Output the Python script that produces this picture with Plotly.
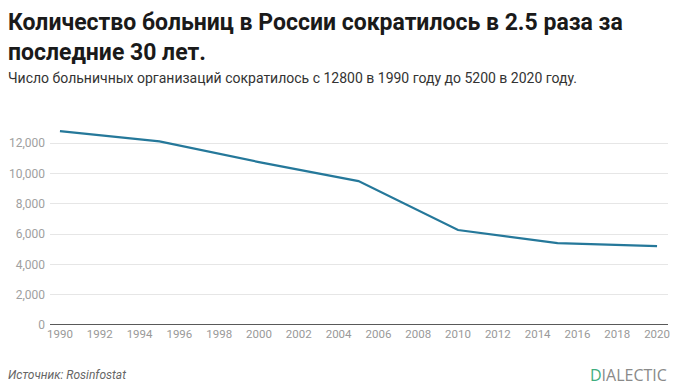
import plotly.graph_objects as go

years = [1990, 1995, 2000, 2005, 2010, 2015, 2020]
hospitals = [12800, 12120, 10750, 9500, 6270, 5400, 5200]
x_ticks = list(range(1990, 2021, 2))
y_ticks = [0, 2000, 4000, 6000, 8000, 10000, 12000]

title_text = "Количество больниц в России сократилось в 2.5 раза за<br>последние 30 лет."
subtitle_text = "Число больничных организаций сократилось с 12800 в 1990 году до 5200 в 2020 году."
source_text = "Источник: Rosinfostat"

FONT = "Roboto, Arial"
OFF = 8  # page body margin
W, H = 680 - OFF, 388 - OFF
L, R, T, B = 42, 12, 117, 63

fig = go.Figure()
fig.add_trace(go.Scatter(
    x=years, y=hospitals, mode="lines",
    line=dict(color="#25789a", width=2.2),
    hoverinfo="x+y", showlegend=False,
))

plot_h = H - T - B
plot_w = W - L - R
def py(page_y):
    return (H - B - (page_y - OFF)) / plot_h
def px(page_x):
    return (page_x - OFF - L) / plot_w

anns = [
    dict(text="<b>" + title_text + "</b>", x=px(6), y=py(7), xref="paper", yref="paper",
         xanchor="left", yanchor="top", showarrow=False, align="left",
         font=dict(family=FONT, size=23, color="#1a1a1a")),
    dict(text=subtitle_text, x=px(6), y=py(78), xref="paper", yref="paper",
         xanchor="left", yanchor="middle", showarrow=False, align="left",
         font=dict(family=FONT, size=14, color="#333333")),
    dict(text="<i>" + source_text + "</i>", x=px(6), y=py(375), xref="paper", yref="paper",
         xanchor="left", yanchor="middle", showarrow=False, align="left",
         font=dict(family=FONT, size=12, color="#666666")),
    dict(text="<span style='color:#3fae7e'>D</span>IALECTIC", x=px(669), y=py(375),
         xref="paper", yref="paper", xanchor="right", yanchor="middle", showarrow=False,
         font=dict(family="Open Sans, Arial", size=16, color="#8a8a8a")),
]

fig.update_layout(
    width=W, height=H,
    margin=dict(l=L, r=R, t=T, b=B, autoexpand=False),
    paper_bgcolor="white", plot_bgcolor="white",
    font=dict(family=FONT, color="#999999", size=12),
    xaxis=dict(
        range=[1989.5, 2020.55], tickmode="array", tickvals=x_ticks,
        ticktext=[str(t) for t in x_ticks], showgrid=False, zeroline=False,
        showline=False, ticks="", tickfont=dict(size=11.5, color="#999999"),
        automargin=False,
    ),
    yaxis=dict(
        range=[0, 13200], tickmode="array", tickvals=y_ticks,
        ticktext=[f"{v:,}" for v in y_ticks], showgrid=True,
        gridcolor="#e6e6e6", gridwidth=1, zeroline=False, showline=False,
        ticks="", tickfont=dict(size=12, color="#a0a0a0"), ticklabelstandoff=4,
        automargin=False,
    ),
    annotations=anns,
)

fig.add_shape(type="line", xref="paper", yref="y", x0=0, x1=1, y0=0, y1=0,
              line=dict(color="#222222", width=1.5))

fig.write_html("out.html")
